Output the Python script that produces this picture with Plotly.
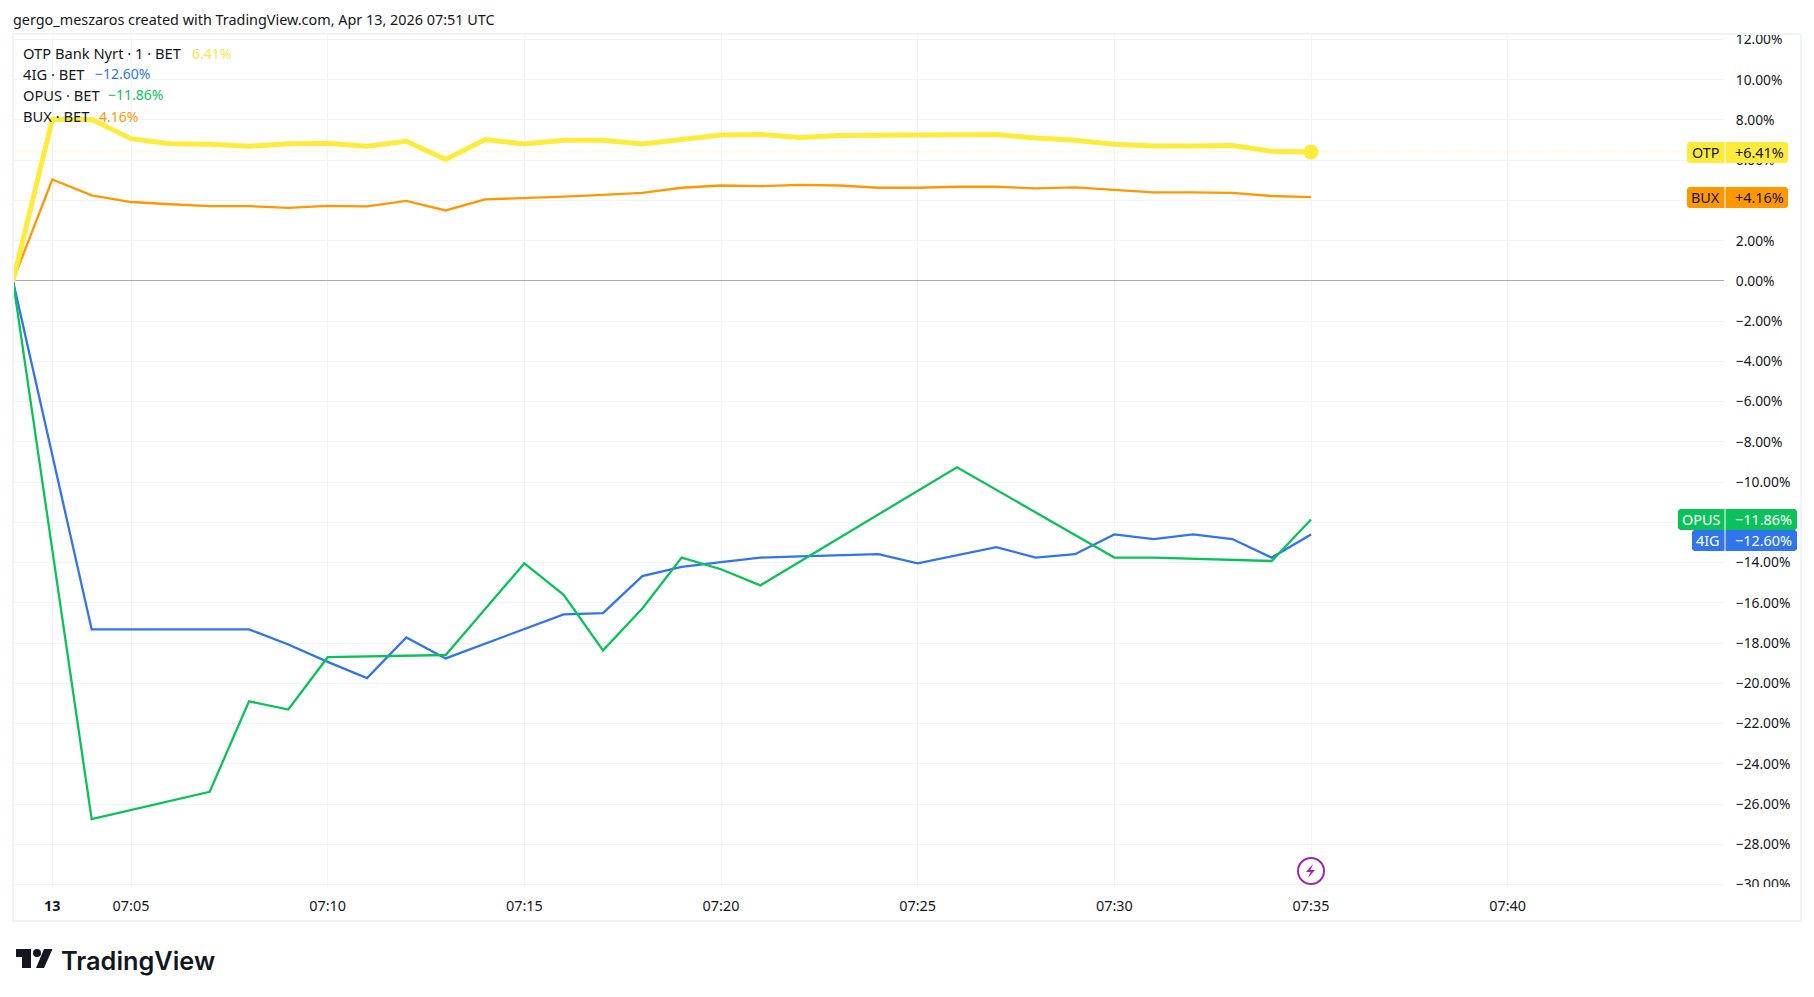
import plotly.graph_objects as go

DAY = "2026-04-13 "

otp_times = ["07:02", "07:03", "07:04", "07:05", "07:06", "07:07", "07:08", "07:09", "07:10", "07:11", "07:12",
             "07:13", "07:14", "07:15", "07:16", "07:17", "07:18", "07:19", "07:20", "07:21", "07:22", "07:23",
             "07:24", "07:25", "07:26", "07:27", "07:28", "07:29", "07:30", "07:31", "07:32", "07:33", "07:34",
             "07:35"]
otp_values = [0, 8.02, 8.02, 7.07, 6.82, 6.79, 6.69, 6.82, 6.84, 6.69, 6.94,
              6.03, 7.02, 6.81, 6.99, 6.99, 6.81, 7.0, 7.25, 7.28, 7.13, 7.22,
              7.22, 7.22, 7.25, 7.28, 7.1, 6.99, 6.79, 6.7, 6.7, 6.73, 6.44,
              6.41]
bux_values = [0, 5.04, 4.25, 3.92, 3.81, 3.72, 3.72, 3.63, 3.73, 3.70, 3.98,
              3.5, 4.05, 4.11, 4.19, 4.28, 4.37, 4.63, 4.74, 4.71, 4.77, 4.74,
              4.63, 4.63, 4.68, 4.68, 4.6, 4.65, 4.51, 4.4, 4.4, 4.37, 4.22,
              4.16]

ig_times = ["07:02", "07:04", "07:08", "07:09", "07:10", "07:11", "07:12", "07:13", "07:16", "07:17", "07:18",
            "07:19", "07:20", "07:21", "07:22", "07:24", "07:25", "07:26", "07:27", "07:28", "07:29", "07:30",
            "07:31", "07:32", "07:33", "07:34", "07:35"]
ig_values = [0, -17.32, -17.32, -18.07, -18.93, -19.74, -17.72, -18.76, -16.57, -16.51, -14.67,
             -14.21, -13.98, -13.75, -13.69, -13.58, -14.04, -13.63, -13.23, -13.75, -13.58, -12.6,
             -12.83, -12.6, -12.83, -13.75, -12.6]

opus_times = ["07:02", "07:04", "07:07", "07:08", "07:09", "07:10", "07:13", "07:15", "07:16", "07:17", "07:18",
              "07:19", "07:20", "07:21", "07:26", "07:30", "07:31", "07:34", "07:35"]
opus_values = [0, -26.75, -25.39, -20.89, -21.3, -18.7, -18.59, -14.04, -15.6, -18.36, -16.28,
               -13.75, -14.33, -15.13, -9.26, -13.75, -13.75, -13.92, -11.86]

y_ticks = list(range(-30, 14, 2))
x_ticks = ["07:03", "07:05", "07:10", "07:15", "07:20", "07:25", "07:30", "07:35", "07:40"]
x_labels = ["<b>13</b>", "07:05", "07:10", "07:15", "07:20", "07:25", "07:30", "07:35", "07:40"]

YELLOW = "#ffeb3b"
ORANGE = "#ff9800"
GREEN = "#0bc25a"
BLUE = "#3075ee"
PURPLE = "#9c27b0"
GRID = "#f0f3fa"
TEXT = "#131722"
FONT = "Noto Sans"
SIZE = 14.4

W, H = 1814, 997
L, R, T, B = 13, 1724, 34, 887


def fx(px):
    return (px - L) / (R - L)


def fy(px):
    return (B - px) / (B - T)


def when(times):
    return [DAY + t for t in times]


def pct(value, plus=False):
    sign = "−" if value < 0 else ("+" if plus else "")
    return f"{sign}{abs(value):.2f}%"


def box(x0, y0, x1, y1, **kw):
    return dict(type="rect", xref="paper", yref="paper", x0=fx(x0), x1=fx(x1), y0=fy(y0), y1=fy(y1), **kw)


def path(points, **kw):
    d = "M " + " L ".join(f"{fx(x)},{fy(y)}" for x, y in points) + " Z"
    return dict(type="path", xref="paper", yref="paper", path=d, **kw)


def pill(x0, y0, x1, y1, color, round_left):
    # rectangle with the two outer corners cut, close enough to a 2px radius at this size
    r = 2
    if round_left:
        pts = [(x0 + r, y0), (x1, y0), (x1, y1), (x0 + r, y1), (x0, y1 - r), (x0, y0 + r)]
    else:
        pts = [(x0, y0), (x1 - r, y0), (x1, y0 + r), (x1, y1 - r), (x1 - r, y1), (x0, y1)]
    return path(pts, fillcolor=color, line_width=0, layer="above")


def text(x, y, s, size=SIZE, color=TEXT, anchor="left", family=FONT, weight=None):
    return dict(xref="paper", yref="paper", x=fx(x), y=fy(y), text=s, showarrow=False, xanchor=anchor, yanchor="middle",
                font=dict(family=family, size=size, color=color, weight=weight), borderpad=0, borderwidth=0)


fig = go.Figure()

fig.add_trace(go.Scatter(x=when(["07:02", "07:45"]), y=[otp_values[-1], otp_values[-1]], mode="lines",
                         line=dict(color="rgba(255,235,59,0.75)", width=1, dash="1px,2px")))
fig.add_trace(go.Scatter(x=when(otp_times), y=bux_values, mode="lines", line=dict(color=ORANGE, width=2.3)))
fig.add_trace(go.Scatter(x=when(ig_times), y=ig_values, mode="lines", line=dict(color=BLUE, width=2.3)))
fig.add_trace(go.Scatter(x=when(opus_times), y=opus_values, mode="lines", line=dict(color=GREEN, width=2.3)))
fig.add_trace(go.Scatter(x=when(otp_times), y=otp_values, mode="lines", line=dict(color=YELLOW, width=5)))
fig.add_trace(go.Scatter(x=when(otp_times[-1:]), y=otp_values[-1:], mode="markers",
                         marker=dict(color=YELLOW, size=15)))

shapes = [
    # frame round the chart, and a cover for the clipped bottom price label
    box(1725, 887, 1800, 920, fillcolor="white", line_width=0, layer="above"),
    box(13, 34, 1801, 921, line=dict(color=GRID, width=2), layer="above"),
    # news marker
    dict(type="circle", xref="paper", yref="paper", x0=fx(1298), x1=fx(1324), y0=fy(858), y1=fy(884),
         line=dict(color=PURPLE, width=2), fillcolor="white", layer="above"),
    path([(1313, 864), (1306, 872), (1310.5, 872), (1308, 878), (1315, 870), (1310.5, 870)],
         fillcolor=PURPLE, line_width=0, layer="above"),
    # logo
    path([(16, 949), (31, 949), (31, 968), (22, 968), (22, 957), (16, 957)], fillcolor="#131722", line_width=0),
    path([(44, 949), (52.5, 949), (44, 968), (36, 968)], fillcolor="#131722", line_width=0),
    dict(type="circle", xref="paper", yref="paper", x0=fx(33), x1=fx(41), y0=fy(949), y1=fy(957),
         fillcolor="#131722", line_width=0),
]

annotations = [
    text(13, 19, "gergo_meszaros created with TradingView.com, Apr 13, 2026 07:51 UTC"),
    text(61, 960, "TradingView", size=25.3, color="#131722", family="Inter", weight=600),
]

legend_rows = [
    ("OTP Bank Nyrt · 1 · BET", otp_values[-1], "#f9e44a", 53, 192),
    ("4IG · BET", ig_values[-1], BLUE, 74, 95),
    ("OPUS · BET", opus_values[-1], GREEN, 95, 108),
    ("BUX · BET", bux_values[-1], ORANGE, 116, 99),
]
for name, value, color, y, value_x in legend_rows:
    annotations.append(text(23, y, name, size=14.7))
    annotations.append(text(value_x, y, pct(value), size=14, color=color))

pills = [
    ("OTP", otp_values[-1], YELLOW, TEXT, 1687, 142),
    ("BUX", bux_values[-1], ORANGE, TEXT, 1687, 187),
    ("OPUS", opus_values[-1], GREEN, "white", 1678, 509),
    ("4IG", ig_values[-1], BLUE, "white", 1692, 530),
]
for name, value, color, ink, left, top in pills:
    right = 1797 if value < 0 else 1788
    shapes.append(pill(left, top, 1724.5, top + 21, color, True))
    shapes.append(pill(1725.5, top, right, top + 21, color, False))
    annotations.append(text((left + 1724.5) / 2, top + 10.5, name, color=ink, anchor="center"))
    annotations.append(text(1735, top + 10.5, pct(value, plus=True), color=ink))

fig.update_layout(
    width=W, height=H,
    margin=dict(l=L, r=W - R, t=T, b=H - B, autoexpand=False),
    paper_bgcolor="white", plot_bgcolor="white",
    showlegend=False, hovermode=False,
    font=dict(family=FONT, size=SIZE, color=TEXT),
    shapes=shapes, annotations=annotations,
)
fig.update_xaxes(type="date", range=[DAY + "07:02:00", DAY + "07:45:30"],
                 tickmode="array", tickvals=when(x_ticks), ticktext=x_labels,
                 showgrid=True, gridcolor=GRID, gridwidth=1, showline=False, zeroline=False,
                 ticks="outside", ticklen=6, tickcolor="rgba(0,0,0,0)", tickfont=dict(size=SIZE, color=TEXT))
fig.update_yaxes(side="right", range=[-30.12, 12.27],
                 tickmode="array", tickvals=y_ticks, ticktext=[pct(v) for v in y_ticks],
                 showgrid=True, gridcolor=GRID, gridwidth=1, showline=False,
                 zeroline=True, zerolinecolor="#ababab", zerolinewidth=1,
                 ticks="outside", ticklen=8, tickcolor="rgba(0,0,0,0)", tickfont=dict(size=13.8, color=TEXT))

# the page's default body margin would push everything 8px off
fig.write_html("out.html", config={"displayModeBar": False}, post_script="document.body.style.margin='0';")
